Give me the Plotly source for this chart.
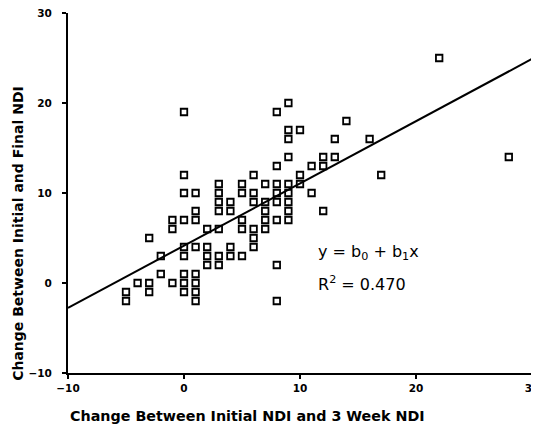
import numpy as np
import plotly.graph_objects as go

# Data (x = change initial->3 week NDI, y = change initial->final NDI)
x_vals = [22,
          9,
          0, 8,
          14,
          9, 10,
          9, 13, 16,
          9, 12, 13, 28,
          8, 11, 12,
          0, 6, 10, 17,
          3, 5, 7, 8, 9, 10,
          0, 1, 3, 5, 6, 8, 9, 11,
          3, 4, 6, 7, 8, 9,
          1, 3, 4, 7, 9, 12,
          -1, 0, 1, 5, 7, 8, 9,
          -1, 2, 3, 5, 6, 7,
          -3, 6,
          0, 1, 2, 4, 6,
          -2, 0, 2, 3, 4, 5,
          2, 3, 8,
          -2, 0, 1,
          -4, -3, -1, 0, 1,
          -5, -3, 0, 1,
          -5, 1, 8]
y_vals = [25,
          20,
          19, 19,
          18,
          17, 17,
          16, 16, 16,
          14, 14, 14, 14,
          13, 13, 13,
          12, 12, 12, 12,
          11, 11, 11, 11, 11, 11,
          10, 10, 10, 10, 10, 10, 10, 10,
          9, 9, 9, 9, 9, 9,
          8, 8, 8, 8, 8, 8,
          7, 7, 7, 7, 7, 7, 7,
          6, 6, 6, 6, 6, 6,
          5, 5,
          4, 4, 4, 4, 4,
          3, 3, 3, 3, 3, 3,
          2, 2, 2,
          1, 1, 1,
          0, 0, 0, 0, 0,
          -1, -1, -1, -1,
          -2, -2, -2]

tick_vals = [-10, 0, 10, 20, 30]
axis_range = [-10, 30]

slope, intercept = np.polyfit(x_vals, y_vals, 1)
line_x = np.array(axis_range, dtype=float)
line_y = intercept + slope * line_x

FONT = "DejaVu Sans"

fig = go.Figure()
fig.add_trace(go.Scatter(
    x=x_vals, y=y_vals, mode="markers",
    marker=dict(symbol="square-open", size=6.5, color="black", line=dict(width=1.8, color="black")),
    showlegend=False, cliponaxis=False))
fig.add_trace(go.Scatter(
    x=line_x, y=line_y, mode="lines",
    line=dict(color="black", width=2), showlegend=False))

axis_common = dict(
    range=axis_range, tickvals=tick_vals, showgrid=False, zeroline=False,
    showline=True, linecolor="black", linewidth=2,
    ticks="outside", ticklen=4, tickwidth=2, tickcolor="black",
    ticklabeloverflow="allow", automargin=False,
    tickfont=dict(family=FONT, size=10.5, color="black", weight="bold"),
)
fig.update_xaxes(**axis_common)
fig.update_yaxes(**axis_common)
fig.update_yaxes(ticklabelstandoff=8)

fig.add_annotation(text="Change Between Initial NDI and 3 Week NDI",
                   xref="paper", yref="paper", x=0.0, y=-0.12,
                   xanchor="left", yanchor="middle", showarrow=False,
                   font=dict(family=FONT, size=14.3, color="black", weight="bold"))
fig.add_annotation(text="Change Between Initial and Final NDI", textangle=-90,
                   xref="paper", yref="paper", x=-0.108, y=0.389,
                   xanchor="center", yanchor="middle", showarrow=False,
                   font=dict(family=FONT, size=14, color="black", weight="bold"))
fig.add_annotation(text="y = b<sub>0</sub> + b<sub>1</sub>x",
                   x=11.35, y=3.4, xanchor="left", yanchor="middle", showarrow=False,
                   font=dict(family=FONT, size=16, color="black"))
fig.add_annotation(text="R<sup>2</sup> = 0.470",
                   x=11.35, y=0.0, xanchor="left", yanchor="middle", showarrow=False,
                   font=dict(family=FONT, size=16, color="black"))

# page body adds an 8px offset; figure sized so the plot area lands where the reference has it
fig.update_layout(
    width=531, height=433,
    margin=dict(l=60, r=7, t=5, b=68, autoexpand=False),
    plot_bgcolor="white", paper_bgcolor="white",
)
fig.write_html("out.html")
